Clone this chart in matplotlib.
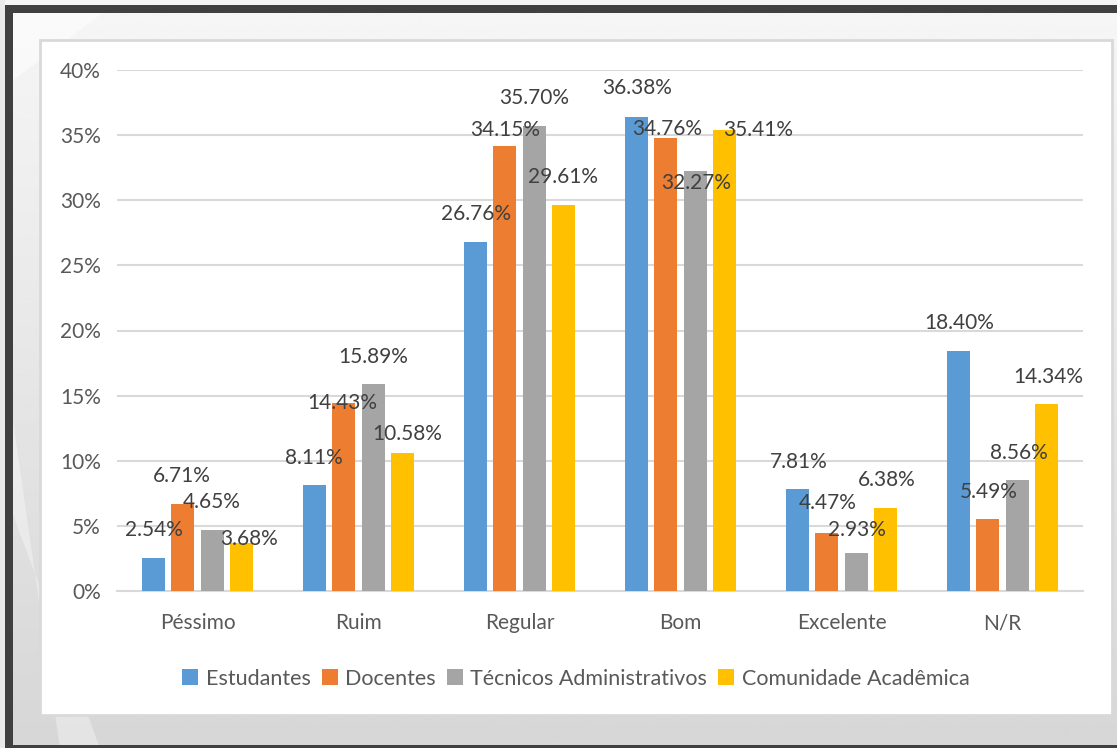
import numpy as np
import matplotlib
matplotlib.use("Agg")
import matplotlib.pyplot as plt
from matplotlib.patches import Rectangle, Polygon

plt.rcParams['font.family'] = ['Lato', 'DejaVu Sans']

categories = ["Péssimo", "Ruim", "Regular", "Bom", "Excelente", "N/R"]
series = ["Estudantes", "Docentes", "Técnicos Administrativos", "Comunidade Acadêmica"]
estudantes = [2.54, 8.11, 26.76, 36.38, 7.81, 18.40]
docentes = [6.71, 14.43, 34.15, 34.76, 4.47, 5.49]
tecnicos = [4.65, 15.89, 35.70, 32.27, 2.93, 8.56]
comunidade = [3.68, 10.58, 29.61, 35.41, 6.38, 14.34]
yticks = [0, 5, 10, 15, 20, 25, 30, 35, 40]

colors = ["#5B9BD5", "#ED7D31", "#A5A5A5", "#FFC000"]
# label offsets (pixels) from the top of each bar, as placed in the original
label_dx = [[0, -1, 0, 0, 1, 0],
            [-1, -2, 0, 1, 1, 1],
            [0, 0, 0, 1, 1, 2],
            [8, 5, 0, 34, 2, 2]]
label_dy = [[28, 27, 28, 29, 27, 28],
            [28, 0, 16, 9, 30, 27],
            [28, 27, 28, -12, 23, 27],
            [4, 19, 28, 0, 28, 27]]

W, H = 1117, 748
fig = plt.figure(figsize=(W / 100, H / 100), dpi=100)

# background
bg = fig.add_axes([0, 0, 1, 1], zorder=-10)
bg.set_xlim(0, W)
bg.set_ylim(H, 0)
bg.axis("off")
grad = np.linspace(0.965, 0.84, 256).reshape(-1, 1)
bg.imshow(grad, cmap="gray", vmin=0, vmax=1, extent=[0, W, H, 0], aspect="auto")
bg.add_patch(Polygon([[0, 330], [60, 748], [100, 748], [0, 480]], color="white", alpha=0.35, lw=0))
bg.add_patch(Polygon([[0, 0], [120, 0], [0, 90]], color="white", alpha=0.5, lw=0))
bg.add_patch(Rectangle((0, 0), W, 5, color="#f4f4f4", lw=0))
bg.add_patch(Rectangle((0, 0), 5, H, color="#eaeaea", lw=0))
bg.add_patch(Rectangle((5, 5), W - 5, 8, color="#404040", lw=0))
bg.add_patch(Rectangle((5, 5), 8, H - 5, color="#404040", lw=0))
bg.add_patch(Rectangle((5, 745), W - 5, 3, color="#404040", lw=0))
bg.add_patch(Rectangle((40, 40), 1072, 675, facecolor="white", edgecolor="#d9d9d9", lw=2))

ax = fig.add_axes([117 / W, 1 - 591 / H, (1083 - 117) / W, (591 - 70) / H])
ax.set_facecolor("none")
x = np.arange(len(categories))
step = 0.1806
width = 0.143
data = [estudantes, docentes, tecnicos, comunidade]
for i, (name, vals) in enumerate(zip(series, data)):
    pos = x + (i - 1.5) * step
    ax.bar(pos, vals, width, color=colors[i], label=name, zorder=3)
    for j, v in enumerate(vals):
        ax.annotate(f"{v:.2f}%", xy=(pos[j], v), xytext=(label_dx[i][j], label_dy[i][j]),
                    textcoords="offset pixels", ha="center", va="center",
                    fontsize=15, color="#404040", zorder=5)

ax.set_xlim(-0.5, len(categories) - 0.5)
ax.set_ylim(0, 40)
ax.set_yticks(yticks)
ax.set_yticklabels([f"{t}%" for t in yticks])
ax.set_xticks(x)
ax.set_xticklabels(categories)
ax.yaxis.grid(True, color="#d9d9d9", lw=1.5, zorder=0)
ax.tick_params(length=0, labelsize=15, colors="#595959")
ax.tick_params(axis="y", pad=11.5)
ax.tick_params(axis="x", pad=16)
for s in ["top", "right", "left"]:
    ax.spines[s].set_visible(False)
ax.spines["bottom"].set_color("#d9d9d9")
ax.spines["bottom"].set_linewidth(1.5)

leg = ax.legend(loc="center", bbox_to_anchor=(0.475, -0.168), ncol=4, frameon=False,
                fontsize=15.5, handlelength=0.75, handleheight=0.75, handletextpad=0.35,
                columnspacing=0.5)
for t in leg.get_texts():
    t.set_color("#595959")

fig.savefig("out.png", dpi=100)
